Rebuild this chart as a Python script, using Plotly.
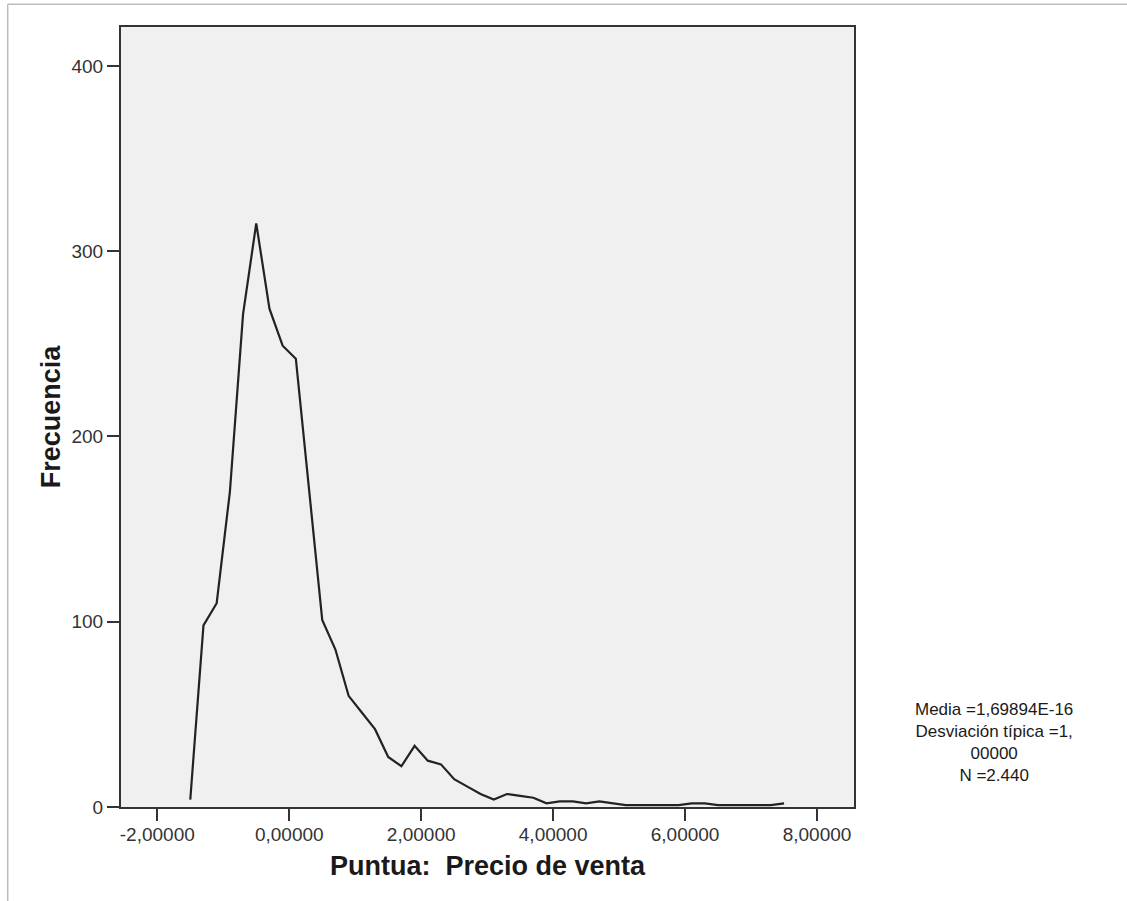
import plotly.graph_objects as go

# Data (frequency polygon)
puntua = [-1.5, -1.3, -1.1, -0.9, -0.7, -0.5, -0.3, -0.1, 0.1, 0.3,
          0.5, 0.7, 0.9, 1.1, 1.3, 1.5, 1.7, 1.9, 2.1, 2.3,
          2.5, 2.7, 2.9, 3.1, 3.3, 3.5, 3.7, 3.9, 4.1, 4.3,
          4.5, 4.7, 4.9, 5.1, 5.3, 5.5, 5.7, 5.9, 6.1, 6.3,
          6.5, 6.7, 6.9, 7.1, 7.3, 7.5]
frecuencia = [4, 98, 110, 170, 266, 315, 269, 249, 242, 170,
              101, 85, 60, 51, 42, 27, 22, 33, 25, 23,
              15, 11, 7, 4, 7, 6, 5, 2, 3, 3,
              2, 3, 2, 1, 1, 1, 1, 1, 2, 2,
              1, 1, 1, 1, 1, 2]

x_tickvals = [-2, 0, 2, 4, 6, 8]
x_ticktext = ["-2,00000", "0,00000", "2,00000", "4,00000", "6,00000", "8,00000"]
y_tickvals = [0, 100, 200, 300, 400]
y_ticktext = ["0", "100", "200", "300", "400"]

stats_lines = ["Media =1,69894E-16", "Desviación típica =1,", "00000", "N =2.440"]

W, H = 1127, 901
L, R, T, B = 121, 854, 27, 807

fig = go.Figure()
fig.add_trace(go.Scatter(x=puntua, y=frecuencia, mode="lines",
                         line=dict(color="#222222", width=2.2),
                         showlegend=False, hoverinfo="x+y"))

font_family = "Liberation Sans, Arial, sans-serif"
axis_common = dict(showline=True, linecolor="#333333", linewidth=2.2, mirror=True,
                   ticks="outside", ticklen=12, tickwidth=2, tickcolor="#333333",
                   showgrid=False, zeroline=False,
                   tickfont=dict(family=font_family, size=19, color="#333333"))

fig.update_layout(
    width=W, height=H, autosize=False,
    margin=dict(l=L, r=W - R, t=T, b=H - B, pad=0),
    paper_bgcolor="white", plot_bgcolor="#f0f0f0",
    xaxis=dict(range=[-2.55, 8.56], tickvals=x_tickvals, ticktext=x_ticktext,
               ticklabelstandoff=-3,
               title=dict(text="<b>Puntua:  Precio de venta</b>", standoff=12,
                          font=dict(family=font_family, size=27, color="#1a1a1a")),
               **axis_common),
    yaxis=dict(range=[0, 421], tickvals=y_tickvals, ticktext=y_ticktext,
               title=dict(text="<b>Frecuencia</b>", standoff=3,
                          font=dict(family=font_family, size=27, color="#1a1a1a")),
               **axis_common),
)

# statistics text at the right
cx, cy = 994, 742
fig.add_annotation(text="<br>".join(stats_lines), xref="paper", yref="paper",
                   x=(cx - L) / (R - L), y=(B - cy) / (B - T),
                   xanchor="center", yanchor="middle", align="center",
                   showarrow=False,
                   font=dict(family=font_family, size=17, color="#1a1a1a"))

# light outer frame (top and left edges)
fig.add_shape(type="line", xref="paper", yref="paper",
              x0=(7.7 - L) / (R - L), x1=(W - L) / (R - L),
              y0=(B - 4.3) / (B - T), y1=(B - 4.3) / (B - T),
              line=dict(color="#bdbdbd", width=1.5))
fig.add_shape(type="line", xref="paper", yref="paper",
              x0=(7.7 - L) / (R - L), x1=(7.7 - L) / (R - L),
              y0=(B - 4.3) / (B - T), y1=(B - H) / (B - T),
              line=dict(color="#bdbdbd", width=1.5))

fig.write_html("out.html", config={"displayModeBar": False},
               post_script="document.body.style.margin='0';")
